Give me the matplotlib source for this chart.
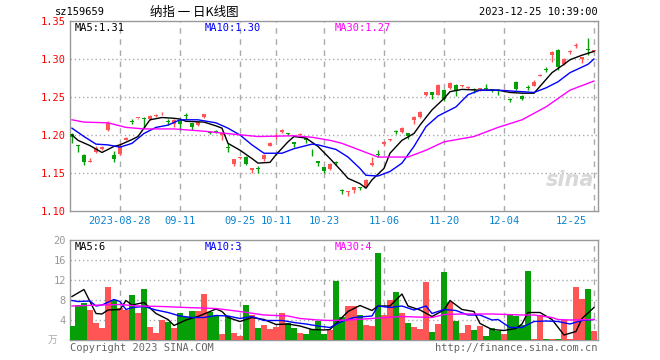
import matplotlib
matplotlib.use("Agg")
import matplotlib.pyplot as plt

# ---- data --------------------------------------------------------------
# daily candles: open, close, high, low (88 trading days, 2023-08-16 .. 2023-12-25)
opens = [1.201, 1.187, 1.174, 1.164, 1.178, 1.181, 1.207, 1.174, 1.175, 1.193,
         1.2175, 1.222, 1.223, 1.221, 1.225, 1.227, 1.2175, 1.215, 1.220, 1.2255,
         1.216, 1.213, 1.224, 1.2035, 1.2045, 1.200, 1.1835, 1.162, 1.170, 1.171,
         1.154, 1.1555, 1.168, 1.186, 1.198, 1.204, 1.2015, 1.191, 1.200, 1.196,
         1.1775, 1.166, 1.158, 1.155, 1.1635, 1.1265, 1.125, 1.128, 1.1305, 1.132,
         1.160, 1.1745, 1.188, 1.193, 1.2045, 1.204, 1.202, 1.220, 1.224, 1.253,
         1.256, 1.253, 1.259, 1.262, 1.266, 1.264, 1.262, 1.2595, 1.260, 1.2605,
         1.2595, 1.2585, 1.258, 1.2465, 1.270, 1.251, 1.2625, 1.265, 1.278, 1.2865,
         1.305, 1.312, 1.293, 1.309, 1.317, 1.300, 1.3125, 1.310]
closes = [1.197, 1.186, 1.164, 1.164, 1.183, 1.184, 1.216, 1.168, 1.186, 1.196,
          1.217, 1.2225, 1.221, 1.225, 1.2255, 1.2275, 1.217, 1.220, 1.215, 1.225,
          1.210, 1.217, 1.227, 1.203, 1.204, 1.203, 1.183, 1.168, 1.1705, 1.162,
          1.156, 1.155, 1.174, 1.190, 1.1985, 1.207, 1.201, 1.188, 1.2005, 1.193,
          1.177, 1.163, 1.153, 1.162, 1.163, 1.126, 1.1255, 1.131, 1.130, 1.141,
          1.163, 1.174, 1.191, 1.1935, 1.204, 1.209, 1.199, 1.224, 1.230, 1.256,
          1.253, 1.266, 1.248, 1.269, 1.258, 1.2645, 1.2625, 1.259, 1.2605, 1.260,
          1.259, 1.258, 1.2585, 1.246, 1.261, 1.248, 1.262, 1.270, 1.2785, 1.286,
          1.309, 1.290, 1.300, 1.3095, 1.3175, 1.302, 1.312, 1.3105]
highs = [1.202, 1.187, 1.175, 1.170, 1.185, 1.185, 1.218, 1.179, 1.190, 1.197,
         1.221, 1.223, 1.224, 1.226, 1.227, 1.230, 1.221, 1.221, 1.221, 1.229,
         1.216, 1.218, 1.228, 1.205, 1.206, 1.204, 1.189, 1.169, 1.171, 1.172,
         1.157, 1.159, 1.175, 1.191, 1.202, 1.208, 1.203, 1.191, 1.202, 1.196,
         1.182, 1.166, 1.158, 1.163, 1.166, 1.129, 1.126, 1.132, 1.132, 1.142,
         1.171, 1.180, 1.192, 1.195, 1.207, 1.210, 1.202, 1.225, 1.231, 1.257,
         1.257, 1.267, 1.260, 1.270, 1.267, 1.266, 1.264, 1.262, 1.261, 1.267,
         1.261, 1.260, 1.260, 1.249, 1.271, 1.252, 1.266, 1.272, 1.280, 1.290,
         1.310, 1.313, 1.301, 1.312, 1.321, 1.303, 1.328, 1.311]
lows = [1.189, 1.177, 1.161, 1.164, 1.176, 1.180, 1.205, 1.165, 1.174, 1.193,
        1.214, 1.221, 1.209, 1.220, 1.224, 1.226, 1.213, 1.211, 1.207, 1.221,
        1.206, 1.212, 1.223, 1.201, 1.202, 1.194, 1.178, 1.159, 1.169, 1.160,
        1.150, 1.150, 1.166, 1.185, 1.195, 1.203, 1.200, 1.184, 1.198, 1.190,
        1.173, 1.159, 1.150, 1.154, 1.160, 1.123, 1.120, 1.124, 1.128, 1.131,
        1.159, 1.171, 1.185, 1.192, 1.201, 1.203, 1.195, 1.214, 1.223, 1.251,
        1.248, 1.252, 1.245, 1.261, 1.251, 1.263, 1.261, 1.255, 1.258, 1.259,
        1.257, 1.252, 1.256, 1.244, 1.259, 1.246, 1.259, 1.264, 1.277, 1.283,
        1.296, 1.286, 1.292, 1.306, 1.314, 1.295, 1.305, 1.309]
volumes = [2.9, 7.1, 7.4, 6.1, 3.5, 2.5, 10.7, 8.1, 6.5, 6.1,
           9.0, 5.4, 10.2, 2.7, 1.4, 4.0, 3.6, 2.4, 5.5, 4.7,
           5.9, 5.8, 9.2, 5.7, 4.8, 1.2, 4.9, 1.5, 0.8, 7.0,
           5.0, 2.5, 3.0, 2.3, 2.6, 5.4, 3.5, 2.5, 1.5, 1.3,
           2.2, 3.9, 1.3, 2.0, 11.9, 4.7, 6.9, 6.9, 5.0, 3.0,
           2.9, 17.5, 5.0, 8.0, 9.6, 5.5, 3.5, 2.6, 2.2, 11.7,
           1.6, 3.3, 13.7, 7.7, 3.9, 1.5, 3.0, 2.1, 2.9, 0.8,
           2.4, 1.9, 1.2, 5.0, 4.8, 3.1, 13.8, 0.3, 5.0, 0.3,
           0.3, 0.3, 4.1, 0.3, 10.7, 8.2, 10.2, 1.8]

# moving averages as drawn (sampled at candle indices)
ma5_idx = [0, 1, 3, 5, 7, 8, 10, 11, 12, 13, 15, 17, 18, 19, 22, 24, 25, 26, 28, 30,
           31, 33, 34, 36, 37, 39, 41, 43, 45, 46, 48, 49, 50, 52, 53, 55, 57, 58, 60, 62,
           63, 65, 68, 71, 73, 75, 77, 78, 80, 82, 83, 85, 87]
ma5_val = [1.200, 1.193, 1.186, 1.177, 1.185, 1.187, 1.194, 1.198, 1.209, 1.220,
           1.223, 1.222, 1.221, 1.218, 1.217, 1.212, 1.209, 1.189, 1.180, 1.169,
           1.163, 1.164, 1.174, 1.191, 1.198, 1.196, 1.185, 1.169, 1.152, 1.143,
           1.136, 1.130, 1.141, 1.156, 1.176, 1.193, 1.202, 1.213, 1.233, 1.248,
           1.257, 1.260, 1.259, 1.259, 1.256, 1.255, 1.255, 1.264, 1.282, 1.293,
           1.299, 1.305, 1.310]
ma10_idx = [0, 2, 4, 6, 8, 10, 12, 14, 16, 18, 21, 24, 26, 28, 30, 32, 35, 37, 40, 41,
            44, 46, 48, 49, 51, 53, 55, 57, 59, 61, 64, 66, 68, 71, 73, 77, 79, 81, 83, 86, 87]
ma10_val = [1.209, 1.198, 1.188, 1.187, 1.184, 1.189, 1.202, 1.210, 1.213, 1.220,
            1.220, 1.216, 1.209, 1.200, 1.187, 1.176, 1.176, 1.182, 1.188, 1.187,
            1.181, 1.171, 1.156, 1.147, 1.146, 1.152, 1.163, 1.185, 1.211, 1.225,
            1.237, 1.253, 1.259, 1.259, 1.258, 1.256, 1.262, 1.270, 1.282, 1.293, 1.300]
ma30_idx = [0, 2, 6, 9, 12, 17, 22, 27, 31, 37, 40, 43, 45, 48, 51, 56, 59, 62, 67, 71,
            75, 79, 83, 87]
ma30_val = [1.220, 1.217, 1.216, 1.210, 1.208, 1.208, 1.205, 1.201, 1.198, 1.199,
            1.197, 1.193, 1.189, 1.180, 1.171, 1.171, 1.180, 1.191, 1.198, 1.210,
            1.220, 1.237, 1.259, 1.271]

vma5_idx = [0, 2, 4, 5, 6, 8, 9, 10, 12, 14, 16, 17, 19, 21, 24, 25, 26, 28, 30, 32,
            34, 36, 38, 40, 42, 43, 45, 46, 48, 50, 51, 53, 55, 56, 58, 60, 62, 63, 65, 67,
            68, 70, 72, 74, 75, 76, 78, 80, 82, 84, 85, 87]
vma5_val = [8.7, 10.1, 5.3, 5.2, 6.0, 6.1, 7.9, 7.0, 7.5, 5.3, 4.1, 2.9, 4.0, 4.7, 6.2,
            5.7, 4.5, 3.7, 4.5, 4.1, 3.1, 3.2, 2.8, 2.1, 2.0, 2.1, 4.5, 5.7, 6.9, 5.9,
            6.8, 6.8, 9.2, 6.8, 6.0, 4.7, 6.0, 7.9, 6.1, 5.7, 3.3, 2.1, 1.9, 2.3, 3.2,
            5.5, 5.5, 4.1, 1.0, 1.7, 4.3, 6.5]
vma10_idx = [0, 1, 3, 4, 5, 7, 8, 9, 10, 12, 14, 16, 18, 20, 22, 24, 26, 28, 30, 32,
             35, 37, 39, 41, 43, 45, 47, 50, 51, 53, 55, 57, 59, 60, 62, 64, 66, 68, 70, 71,
             73, 75, 76, 77, 79, 81, 83, 85, 87]
vma10_val = [7.9, 7.7, 7.8, 6.8, 7.0, 8.1, 7.7, 6.1, 6.5, 6.7, 6.0, 5.5, 4.8, 4.5, 4.5,
             4.9, 4.8, 4.3, 4.7, 3.9, 3.9, 3.5, 3.2, 2.8, 2.5, 3.7, 4.5, 4.8, 6.8, 6.5,
             6.8, 6.0, 6.8, 5.3, 6.1, 5.9, 5.0, 5.0, 4.0, 4.1, 2.5, 2.5, 3.1, 3.7, 3.8,
             3.7, 3.2, 3.9, 4.1]
vma30_idx = [0, 5, 8, 11, 15, 19, 24, 26, 28, 32, 36, 38, 41, 43, 46, 50, 55, 60, 62, 65,
             70, 75, 77, 80, 81, 83, 87]
vma30_val = [6.8, 7.0, 7.1, 6.8, 6.7, 6.5, 6.3, 6.0, 5.7, 5.0, 4.8, 4.3, 4.0, 3.9, 4.0,
             4.3, 4.7, 4.5, 5.1, 5.2, 5.2, 5.0, 5.0, 4.5, 4.1, 4.0, 4.1]

date_idx = [8, 18, 28, 34, 42, 52, 62, 72, 87]
date_labels = ["2023-08-28", "09-11", "09-25", "10-11", "10-23", "11-06", "11-20",
               "12-04", "12-25"]
price_ticks = [1.10, 1.15, 1.20, 1.25, 1.30, 1.35]
vol_ticks = [4, 8, 12, 16, 20]

# ---- drawing ------------------------------------------------------------
W, H = 660, 360
RED = "#ff5555"
GREEN = "#079f07"
GRID = "#aaaaaa"
MONO = "DejaVu Sans Mono"

fig = plt.figure(figsize=(W / 100, H / 100), dpi=100)
fig.patch.set_facecolor("white")

ax1 = fig.add_axes([70 / W, 1 - 211 / H, 528 / W, 190 / H])
ax2 = fig.add_axes([70 / W, 1 - 340 / H, 528 / W, 100 / H])

n = len(opens)
colors = [RED if c >= o else GREEN for o, c in zip(opens, closes)]

for i in range(n):
    ax1.vlines(i, lows[i], highs[i], color=colors[i], lw=1, zorder=3)
    bottom = min(opens[i], closes[i])
    height = max(abs(closes[i] - opens[i]), 0.0012)
    ax1.bar(i, height, bottom=bottom, width=0.8, color=colors[i], zorder=3,
            linewidth=0)

ax1.plot(ma5_idx, ma5_val, color="black", lw=1, zorder=4)
ax1.plot(ma10_idx, ma10_val, color="#0000ff", lw=1, zorder=4)
ax1.plot(ma30_idx, ma30_val, color="#ff00ff", lw=1, zorder=4)

ax2.bar(range(n), volumes, width=0.85, color=colors, linewidth=0, zorder=3)
ax2.plot(vma5_idx, vma5_val, color="black", lw=1, zorder=4)
ax2.plot(vma10_idx, vma10_val, color="#0000ff", lw=1, zorder=4)
ax2.plot(vma30_idx, vma30_val, color="#ff00ff", lw=1, zorder=4)

for ax in (ax1, ax2):
    ax.set_xlim(-0.33, 87.67)
    ax.set_xticks(date_idx)
    ax.set_xticklabels([])
    ax.tick_params(length=0)
    ax.grid(axis="x", color=GRID, linestyle=(0, (4, 4)), lw=1, zorder=1)
    for s in ax.spines.values():
        s.set_color("#999999")
        s.set_linewidth(1)

ax1.set_ylim(1.10, 1.35)
ax1.set_yticks(price_ticks)
ax1.set_yticklabels([f"{v:.2f}" for v in price_ticks], color="red",
                    fontsize=7.5, family=MONO)
ax1.tick_params(axis="y", pad=3)
for v in price_ticks[1:-1]:
    ax1.axhline(v, color=GRID, linestyle=(0, (1, 2)), lw=1, zorder=1)

ax2.set_ylim(0, 20)
ax2.set_yticks(vol_ticks)
ax2.set_yticklabels([str(v) for v in vol_ticks], color="#999999",
                    fontsize=7.5, family=MONO)
ax2.tick_params(axis="y", pad=3)
for v in vol_ticks[:-1]:
    ax2.axhline(v, color=GRID, linestyle=(0, (1, 2)), lw=1, zorder=1)

# date labels under the price panel
for k, (i, lab) in enumerate(zip(date_idx, date_labels)):
    last = k == len(date_idx) - 1
    ax1.text(i - 1.2 if last else i, -0.05, lab, transform=ax1.get_xaxis_transform(),
             ha="right" if last else "center", va="center", fontsize=7.5,
             family=MONO, color="#0a84d0")

def ftext(x, y, s, **kw):
    kw.setdefault("family", MONO)
    kw.setdefault("fontsize", 7.5)
    fig.text(x / W, 1 - y / H, s, va="center", **kw)

ftext(55, 12, "sz159659")
ftext(150, 12, "纳指 一 日K线图", fontsize=9,
      family=["Noto Sans CJK SC", "DejaVu Sans"])
ftext(598, 12, "2023-12-25 10:39:00", ha="right")

ftext(75, 28, "MA5:1.31", color="black")
ftext(205, 28, "MA10:1.30", color="#0000ff")
ftext(335, 28, "MA30:1.27", color="#ff00ff")

ftext(75, 247, "MA5:6", color="black")
ftext(205, 247, "MA10:3", color="#0000ff")
ftext(335, 247, "MA30:4", color="#ff00ff")

ftext(48, 340, "万", color="#aaaaaa", fontsize=7,
      family=["Noto Sans CJK SC", "DejaVu Sans"])
ftext(70, 348, "Copyright 2023 SINA.COM", color="#666666")
ftext(598, 348, "http://finance.sina.com.cn", color="#666666", ha="right")

# faint sina watermark
ftext(570, 180, "sina", color="#d8d8d8", fontsize=15, weight="bold",
      style="italic", family="DejaVu Sans", ha="center")

fig.savefig("out.png", dpi=100)
